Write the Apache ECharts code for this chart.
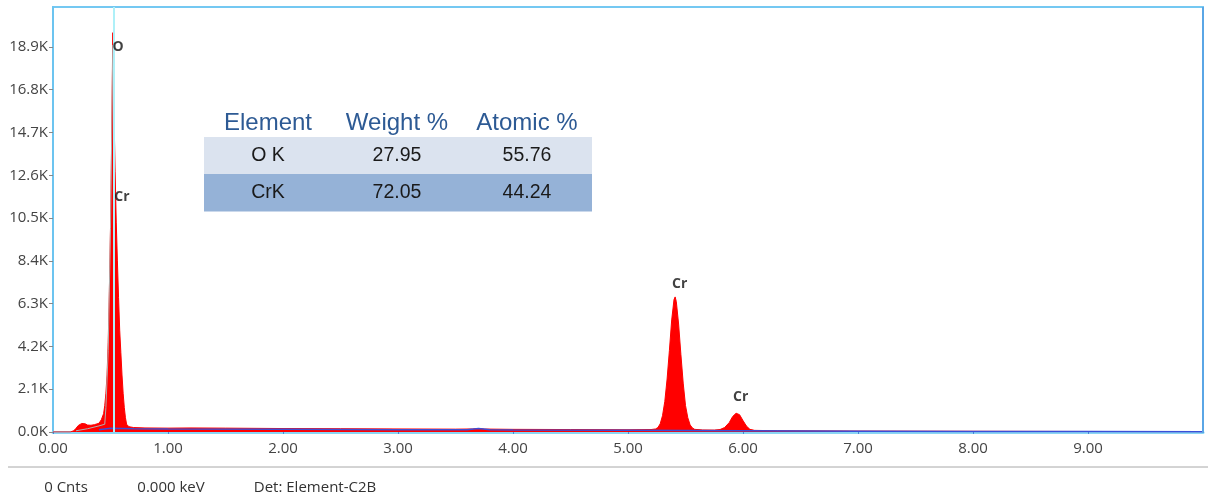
<!DOCTYPE html>
<html>
<head>
<meta charset="utf-8">
<script src="https://cdn.jsdelivr.net/npm/echarts@6/dist/echarts.min.js"></script>
<style>
  html, body { margin: 0; padding: 0; background: #ffffff; }
  #chart { width: 1208px; height: 498px; }
</style>
</head>
<body>
<div id="chart"></div>
<script>
// EDS spectrum: energy (keV) vs counts
const energies = [0.00,0.15,0.18,0.20,0.22,0.25,0.28,0.30,0.33,0.36,0.40,0.42,0.44,0.45,0.46,0.47,0.48,0.49,0.50,0.51,0.52,0.53,0.54,0.55,0.56,0.57,0.58,0.59,0.60,0.61,0.62,0.63,0.64,0.66,0.70,0.80,1.00,1.20,1.50,2.00,2.50,3.00,3.50,3.65,3.70,3.75,4.00,4.50,5.00,5.20,5.24,5.26,5.28,5.30,5.32,5.34,5.36,5.38,5.40,5.41,5.42,5.44,5.46,5.48,5.50,5.52,5.54,5.56,5.58,5.65,5.75,5.80,5.84,5.88,5.91,5.94,5.95,5.97,6.00,6.03,6.06,6.10,6.30,7.00,8.00,9.00,10.00];
const counts = [0,0,60,180,320,420,400,340,330,360,430,600,900,1300,1900,2800,4400,6900,10000,14200,19600,15800,12800,10300,8400,6600,5000,3900,2800,1900,1200,700,380,260,220,200,190,200,190,170,160,150,140,150,170,145,130,120,110,120,150,220,400,800,1500,2600,4000,5500,6500,6630,6400,5300,3800,2400,1300,700,350,200,130,100,95,120,220,460,760,920,930,850,560,290,130,80,60,45,35,25,20];

// fitted background
const bgEnergies = [0.40,0.50,0.70,1.00,2.00,3.00,3.60,3.70,3.80,4.00,5.00,6.00,7.00,8.00,9.00,10.00];
const bgCounts = [110,180,160,150,130,110,110,170,110,100,80,60,40,30,20,15];

// fit trace on the low-energy side of the O peak
const fitEnergies = [0.20,0.30,0.40,0.45,0.46,0.48,0.50,0.52];
const fitCounts = [60,160,300,380,1200,4000,10000,19000];

// element line markers
const markerNames = ['O','Cr','Cr','Cr'];
const markerEnergies = [0.565,0.60,5.45,5.98];
const markerCounts = [18900,11550,7250,1720];

// cursor position (keV)
const cursorEnergy = 0.525;

// axis ticks
const yInterval = 2100;
const yMax = 20860;
const xInterval = 1;
const xMax = 10;

// quantification table
const tableHeader = ['Element','Weight %','Atomic %'];
const tableRows = [
  ['O K','27.95','55.76'],
  ['CrK','72.05','44.24']
];

// status line
const statusTexts = ['0 Cnts','0.000 keV','Det: Element-C2B'];

const pair = (xs, ys) => xs.map((x, i) => [x, ys[i]]);

const uiFont = '"Open Sans", "Noto Sans", sans-serif';
const tableFont = '"Liberation Sans", Arial, sans-serif';
const axisFontSize = 15;

// table graphics
const tableLeft = 204, tableRight = 592;
const colCenters = [268, 397, 527];
const headerY = 123;
const rowTops = [137, 174];
const rowH = 37.5;
const rowFills = ['#dbe3ef', '#95b2d7'];
const tableGraphics = [];
tableHeader.forEach((t, i) => {
  tableGraphics.push({
    type: 'text', x: colCenters[i], y: headerY, z: 100,
    style: { text: t, align: 'center', verticalAlign: 'middle',
             font: '24px ' + tableFont, fill: '#2d5a94' }
  });
});
tableRows.forEach((row, r) => {
  tableGraphics.push({
    type: 'rect', z: 99,
    shape: { x: tableLeft, y: rowTops[r], width: tableRight - tableLeft, height: rowH },
    style: { fill: rowFills[r] }
  });
  row.forEach((t, i) => {
    tableGraphics.push({
      type: 'text', z: 100,
      x: colCenters[i], y: rowTops[r] + rowH / 2,
      style: { text: t, align: 'center', verticalAlign: 'middle',
               font: '19.5px ' + tableFont, fill: '#1a1a1a' }
    });
  });
});

const statusX = [66, 171, 315];
const statusGraphics = statusTexts.map((t, i) => ({
  type: 'text', x: statusX[i], y: 488, z: 100,
  style: { text: t, align: 'center', verticalAlign: 'middle',
           font: '15px ' + uiFont, fill: '#333333' }
}));

const chart = echarts.init(document.getElementById('chart'), null, { renderer: 'canvas' });

chart.setOption({
  animation: false,
  backgroundColor: '#ffffff',
  grid: {
    left: 53, right: 5, top: 7, bottom: 66,
    show: true, borderColor: '#74c8f2', borderWidth: 2, backgroundColor: 'transparent'
  },
  xAxis: {
    type: 'value', min: 0, max: xMax, interval: xInterval,
    axisLine: { show: true, lineStyle: { color: '#8ad6f4', width: 3 } },
    axisTick: { show: true, inside: false, length: 2, lineStyle: { color: '#4a86d8', width: 1 } },
    splitLine: { show: false },
    axisLabel: {
      showMaxLabel: false, color: '#444444', fontSize: axisFontSize, fontFamily: uiFont, margin: 9,
      formatter: v => v.toFixed(2)
    }
  },
  yAxis: {
    type: 'value', min: 0, max: yMax, interval: yInterval,
    axisLine: { show: true, lineStyle: { color: '#6cc4f0', width: 2 } },
    axisTick: { show: true, length: 4, lineStyle: { color: '#888888' } },
    splitLine: { show: false },
    axisLabel: {
      showMaxLabel: false, color: '#444444', fontSize: axisFontSize, fontFamily: uiFont, margin: 5,
      formatter: v => (v / 1000).toFixed(1) + 'K'
    }
  },
  series: [
    {
      // cursor line
      type: 'line', data: [], z: 1, silent: true,
      markLine: {
        symbol: ['none', 'none'], silent: true, label: { show: false },
        lineStyle: { color: '#aef0f8', width: 2, type: 'solid' },
        data: [{ xAxis: cursorEnergy }]
      }
    },
    {
      name: 'Spectrum', type: 'line', data: pair(energies, counts), z: 3,
      symbol: 'none', smooth: false,
      lineStyle: { color: '#ff0000', width: 1 },
      areaStyle: { color: '#ff0000', opacity: 1 }
    },
    {
      name: 'Background', type: 'line', data: pair(bgEnergies, bgCounts), z: 4,
      symbol: 'none', lineStyle: { color: '#3a4fd8', width: 1.5 }
    },
    {
      name: 'Fit', type: 'line', data: pair(fitEnergies, fitCounts), z: 4,
      symbol: 'none', lineStyle: { color: '#b0b0b0', width: 1 }
    },
    {
      name: 'Markers', type: 'scatter', z: 6, symbolSize: 1,
      itemStyle: { color: 'transparent' },
      data: markerEnergies.map((e, i) => ({ value: [e, markerCounts[i]], name: markerNames[i] })),
      label: {
        show: true, position: 'inside', formatter: p => p.name,
        color: '#111111', fontSize: 14, fontWeight: 'bold', fontFamily: uiFont
      }
    }
  ],
  graphic: [
    {
      type: 'line', z: 100,
      shape: { x1: 1203, y1: 7, x2: 1203, y2: 433 },
      style: { stroke: '#5aa6e6', lineWidth: 2 }
    },
    {
      type: 'line', z: 100,
      shape: { x1: 8, y1: 467, x2: 1208, y2: 467 },
      style: { stroke: '#a8a8a8', lineWidth: 1 }
    },
    ...tableGraphics,
    ...statusGraphics
  ]
});
</script>
</body>
</html>
